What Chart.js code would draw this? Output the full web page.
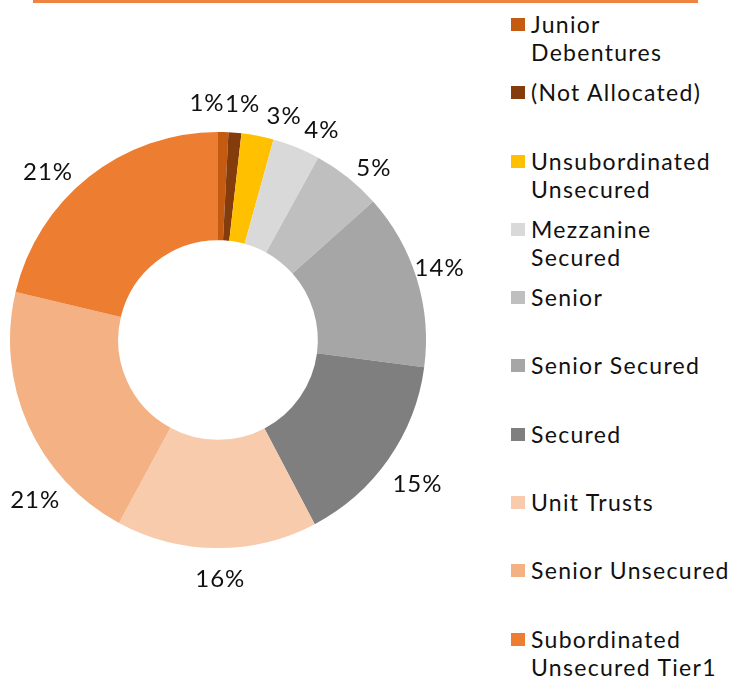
<!DOCTYPE html>
<html>
<head>
<meta charset="utf-8">
<script src="https://cdn.jsdelivr.net/npm/chart.js@4.4.0/dist/chart.umd.min.js"></script>
<style>
  html, body { margin: 0; padding: 0; background: #fff; }
  body { width: 734px; height: 677px; position: relative; overflow: hidden; font-family: Lato, sans-serif; }
  #topLine { position: absolute; left: 33px; top: 0; width: 665px; height: 3px; background: #ee8440; }
  #wrap { position: absolute; left: 0; top: 0; width: 500px; height: 677px; }
  #legend { position: absolute; left: 511px; top: 10px; width: 223px; }
  .item { height: 68.3px; display: flex; align-items: flex-start; }
  .box { width: 14px; height: 13px; margin-top: 8px; margin-right: 6px; flex: none; }
  .txt { font-size: 23px; line-height: 28px; letter-spacing: 1.3px; color: #111; white-space: nowrap; }
</style>
</head>
<body>
<div id="topLine"></div>
<div id="wrap"><canvas id="grafico" width="500" height="677"></canvas></div>
<div id="legend"></div>
<script>
// datos del gráfico
const categorias = ["Junior Debentures", "(Not Allocated)", "Unsubordinated Unsecured", "Mezzanine Secured",
    "Senior", "Senior Secured", "Secured", "Unit Trusts", "Senior Unsecured", "Subordinated Unsecured Tier1"];
const lineasLeyenda = [["Junior", "Debentures"], ["(Not Allocated)"], ["Unsubordinated", "Unsecured"],
    ["Mezzanine", "Secured"], ["Senior"], ["Senior Secured"], ["Secured"], ["Unit Trusts"],
    ["Senior Unsecured"], ["Subordinated", "Unsecured Tier1"]];
const valores = [0.8, 1.0, 2.5, 3.7, 5.4, 13.7, 15.2, 15.6, 20.8, 21.3];
const colores = ["#c55a11", "#843c0c", "#ffc000", "#d9d9d9", "#bfbfbf", "#a6a6a6", "#7f7f7f", "#f8cbad", "#f4b183", "#ed7d31"];

// ajuste de posición de etiquetas (grados, radio px)
const etiquetaGiro = [-4.1, 1.3, 5.5, 4.2, 3.7, -0.9, 0.9, -0.9, -17.1, -7.0];
const etiquetaRadio = [237, 237, 233, 234, 232, 233, 246, 239, 243, 239];

// leyenda en HTML
const leyendaEl = document.getElementById("legend");
lineasLeyenda.forEach((lineas, i) => {
    const div = document.createElement("div");
    div.className = "item";
    div.innerHTML = `<span class="box" style="background:${colores[i]}"></span><span class="txt">${lineas.join("<br>")}</span>`;
    leyendaEl.appendChild(div);
});

const total = valores.reduce((a, b) => a + b, 0);

const etiquetasPlugin = {
    id: "etiquetas",
    afterDatasetsDraw(chart) {
        const ctx = chart.ctx;
        const meta = chart.getDatasetMeta(0);
        ctx.save();
        ctx.font = "24px Lato";
        ctx.letterSpacing = "1px";
        ctx.fillStyle = "#111";
        ctx.textAlign = "center";
        ctx.textBaseline = "middle";
        meta.data.forEach((arc, i) => {
            const a = (arc.startAngle + arc.endAngle) / 2 + etiquetaGiro[i] * Math.PI / 180;
            const r = etiquetaRadio[i];
            const x = arc.x + r * Math.cos(a);
            const y = arc.y + r * Math.sin(a);
            ctx.fillText(Math.round(valores[i] / total * 100) + "%", x, y);
        });
        ctx.restore();
    }
};

new Chart(document.getElementById("grafico").getContext("2d"), {
    type: "doughnut",
    data: {
        labels: categorias,
        datasets: [{
            data: valores,
            backgroundColor: colores,
            borderWidth: 0
        }]
    },
    options: {
        responsive: false,
        animation: false,
        cutout: "48%",
        layout: { padding: { left: 10, right: 74, top: 132, bottom: 129 } },
        plugins: {
            legend: { display: false },
            tooltip: { enabled: false }
        }
    },
    plugins: [etiquetasPlugin]
});
</script>
</body>
</html>
